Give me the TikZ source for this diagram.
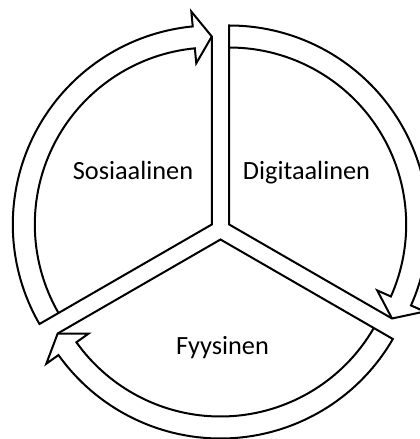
\documentclass[tikz,border=0pt]{standalone}
\usepackage{fontspec}
\setmainfont{Carlito}
\begin{document}
\begin{tikzpicture}[x=1pt,y=1pt,
  seg/.style={draw=black, line width=2pt, fill=white, line join=miter, miter limit=20},
  rim/.style={draw=black, line width=2pt, line join=miter, miter limit=20},
  lbl/.style={font=\fontsize{26.3}{30}\selectfont, anchor=base, inner sep=0pt}]
\useasboundingbox (0,0) rectangle (420,439);
\clip (0,0) rectangle (420,439);
\def\Ro{199}\def\Ri{177}\def\Rm{188}\def\Rb{214}\def\Rc{162}
% Sosiaalinen segment (210 -> 90)
\begin{scope}[shift={(211.8,214.5)}]
  \path[seg] (0,0) -- (210:\Ro) arc[start angle=210,end angle=95.5,radius=\Ro]
     -- (95.5:\Rb) -- (90:\Rm) -- cycle;
  \draw[rim] (210:\Ri) arc[start angle=210,end angle=95.5,radius=\Ri]
     -- (95.5:\Rc) -- (90:\Rm);
\end{scope}
% Digitaalinen segment (90 -> -30)
\begin{scope}[shift={(229.2,214.5)}]
  \path[seg] (0,0) -- (90:\Ro) arc[start angle=90,end angle=-24,radius=\Ro]
     -- (-24:\Rb) -- (-30:\Rm) -- cycle;
  \draw[rim] (90:\Ri) arc[start angle=90,end angle=-24,radius=\Ri]
     -- (-24:\Rc) -- (-30:\Rm);
\end{scope}
% Fyysinen segment (330 -> 210)
\begin{scope}[shift={(220.5,199.5)}]
  \path[seg] (0,0) -- (330:\Ro) arc[start angle=330,end angle=215.5,radius=\Ro]
     -- (215.5:\Rb) -- (210:\Rm) -- cycle;
  \draw[rim] (330:\Ri) arc[start angle=330,end angle=215.5,radius=\Ri]
     -- (215.5:\Rc) -- (210:\Rm);
\end{scope}
\node[lbl] (sos) at (133,259) {Sosiaalinen};
\node[lbl] (dig) at (306.5,259) {Digitaalinen};
\node[lbl] (fyy) at (222.5,84) {Fyysinen};
\end{tikzpicture}
\end{document}
